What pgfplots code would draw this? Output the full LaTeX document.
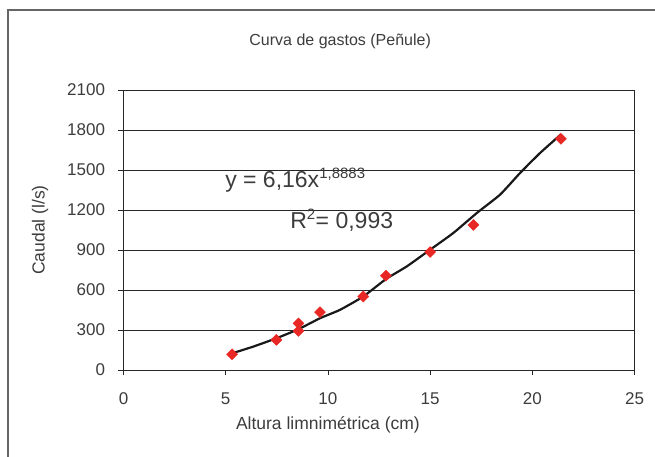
\documentclass[border=0pt]{standalone}
\usepackage{fontspec}
\setmainfont{Liberation Sans}
\usepackage{pgfplots}
\pgfplotsset{compat=1.18}
\definecolor{txt}{RGB}{60,60,60}
\definecolor{ptred}{RGB}{232,40,36}
\begin{document}
\begin{tikzpicture}
\useasboundingbox (-123.5pt,-87pt) rectangle (531.5pt,370pt);
\draw[black!60, line width=1.4pt] (-115.5pt,-90pt) -- (-115.5pt,360pt) -- (535pt,360pt);
\begin{axis}[
  at={(0pt,0pt)}, anchor=south west,
  scale only axis, width=511pt, height=280pt,
  xmin=0, xmax=25, ymin=0, ymax=2100,
  xtick={0,5,...,25}, ytick={0,300,...,2100},
  ymajorgrids, grid style={black!85, line width=0.6pt},
  axis line style={black!85, line width=0.8pt},
  tick align=outside, tick pos=left, major tick length=5pt,
  tick style={black!85, line width=0.8pt},
  ticklabel style={font=\fontsize{17}{17}\selectfont, text=txt},
  xticklabel style={yshift=-14pt},
  yticklabel style={xshift=-10pt},
  /pgf/number format/assume math mode=true,
  /pgf/number format/1000 sep={},
  title={Curva de gastos (Peñule)},
  title style={font=\fontsize{16}{16}\selectfont, text=txt, at={(axis description cs:0.424,1.154)}, anchor=center},
  xlabel={Altura limnimétrica (cm)},
  xlabel style={font=\fontsize{17.5}{17.5}\selectfont, text=txt, at={(axis description cs:0.40,-0.196)}, anchor=center},
  ylabel={Caudal (l/s)},
  ylabel style={font=\fontsize{17.5}{17.5}\selectfont, text=txt, at={(axis description cs:-0.163,0.5)}, anchor=center, rotate=0},
  clip=false,
]
\addplot[black!90, line width=2.2pt, smooth, tension=0.3] coordinates {
(5.31,125) (6.34,175) (7.48,238) (8.56,306) (9.61,388) (10.59,451)
(11.73,551) (12.84,682) (13.86,777) (15.0,902) (16.14,1028) (17.29,1178)
(18.43,1316) (19.41,1479) (20.39,1629) (21.4,1767)
};
\addplot[only marks, mark=square*, mark size=3.9pt, mark options={rotate=45}, color=ptred, fill=ptred] coordinates {
(5.31,118) (7.48,226) (8.56,350) (8.56,293) (9.61,434) (11.73,551)
(12.84,707) (15.0,885) (17.12,1088) (21.4,1734)
};
\node[anchor=west, text=txt, font=\fontsize{23}{23}\selectfont, inner sep=0pt] at (axis cs:4.97,1425) {y = 6,16x\textsuperscript{\fontsize{15}{15}\selectfont 1,8883}};
\node[anchor=west, text=txt, font=\fontsize{23}{23}\selectfont, inner sep=0pt] at (axis cs:8.15,1125) {R\textsuperscript{\fontsize{15}{15}\selectfont 2}= 0,993};
\end{axis}
\end{tikzpicture}
\end{document}
